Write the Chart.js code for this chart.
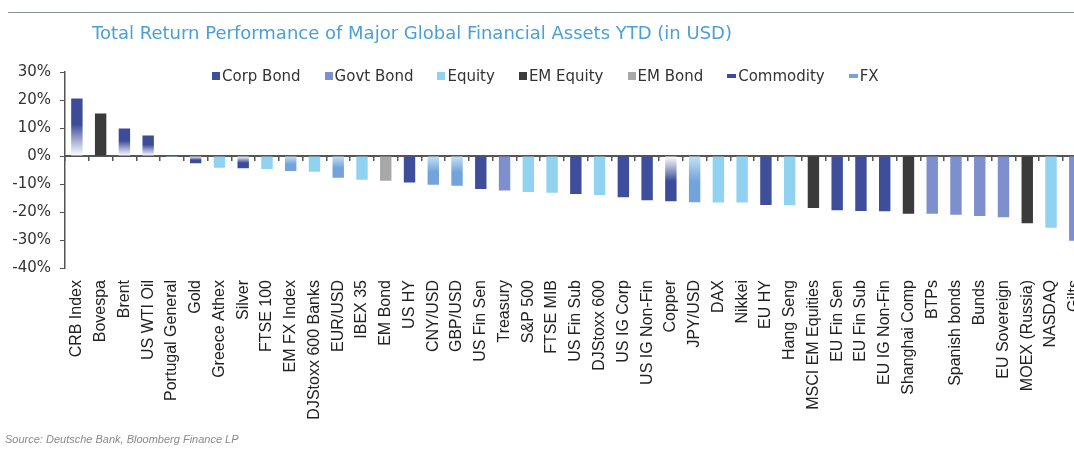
<!DOCTYPE html>
<html>
<head>
<meta charset="utf-8">
<script src="https://cdn.jsdelivr.net/npm/chart.js@4.4.1/dist/chart.umd.min.js"></script>
<style>
  html, body { margin: 0; padding: 0; background: #fff; overflow: hidden; width: 1074px; height: 454px; }
  #wrap { position: absolute; left: 0; top: 0; width: 1098px; height: 454px; }
  #topline { position: absolute; left: 8px; right: 0; top: 12px; height: 0; border-top: 1px solid #8a8f96; }
  #title { position: absolute; left: 92px; top: 22px; font: 18px "DejaVu Sans", sans-serif; color: #4a9fd8; white-space: nowrap; }
  #legend { position: absolute; left: 212px; top: 67px; display: flex; gap: 24px; font: 15px "DejaVu Sans", sans-serif; color: #333; white-space: nowrap; }
  #legend span.item { display: flex; align-items: center; }
  #legend i { display: inline-block; width: 8px; height: 8px; margin-right: 2px; }
  #legend i.dash { width: 9px; height: 4px; }
  #source { position: absolute; left: 5px; top: 433px; font: italic 11px "Liberation Sans", sans-serif; color: #8a8a8a; }
</style>
</head>
<body>
<div id="wrap"><canvas id="chart" width="1098" height="454"></canvas></div>
<div id="topline"></div>
<div id="title">Total Return Performance of Major Global Financial Assets YTD (in USD)</div>
<div id="legend"></div>
<div id="source">Source: Deutsche Bank, Bloomberg Finance LP</div>
<script>
// Dữ liệu: tên tài sản, lợi nhuận YTD (%) và nhóm tài sản
const categories = ['CRB Index', 'Bovespa', 'Brent', 'US WTI Oil', 'Portugal General', 'Gold', 'Greece Athex', 'Silver',
    'FTSE 100', 'EM FX Index', 'DJStoxx 600 Banks', 'EUR/USD', 'IBEX 35', 'EM Bond', 'US HY', 'CNY/USD', 'GBP/USD',
    'US Fin Sen', 'Treasury', 'S&P 500', 'FTSE MIB', 'US Fin Sub', 'DJStoxx 600', 'US IG Corp', 'US IG Non-Fin',
    'Copper', 'JPY/USD', 'DAX', 'Nikkei', 'EU HY', 'Hang Seng', 'MSCI EM Equities', 'EU Fin Sen', 'EU Fin Sub',
    'EU IG Non-Fin', 'Shanghai Comp', 'BTPs', 'Spanish bonds', 'Bunds', 'EU Sovereign', 'MOEX (Russia)', 'NASDAQ', 'Gilts'];

const returns = [20.5, 15.2, 9.8, 7.3, -0.4, -2.6, -4.2, -4.4,
    -4.6, -5.4, -5.6, -7.8, -8.5, -8.8, -9.5, -10.3, -10.6,
    -11.8, -12.3, -12.9, -13.1, -13.6, -13.9, -14.7, -15.8,
    -16.2, -16.5, -16.6, -16.6, -17.5, -17.6, -18.6, -19.4, -19.6,
    -19.7, -20.6, -20.6, -21.0, -21.4, -21.9, -24.0, -25.6, -30.3];

const assetClass = ['Commodity', 'EM Equity', 'Commodity', 'Commodity', 'Equity', 'Commodity', 'Equity', 'Commodity',
    'Equity', 'FX', 'Equity', 'FX', 'Equity', 'EM Bond', 'Corp Bond', 'FX', 'FX',
    'Corp Bond', 'Govt Bond', 'Equity', 'Equity', 'Corp Bond', 'Equity', 'Corp Bond', 'Corp Bond',
    'Commodity', 'FX', 'Equity', 'Equity', 'Corp Bond', 'Equity', 'EM Equity', 'Corp Bond', 'Corp Bond',
    'Corp Bond', 'EM Equity', 'Govt Bond', 'Govt Bond', 'Govt Bond', 'Govt Bond', 'EM Equity', 'Equity', 'Govt Bond'];

const classNames = ['Corp Bond', 'Govt Bond', 'Equity', 'EM Equity', 'EM Bond', 'Commodity', 'FX'];

const yTicks = [30, 20, 10, 0, -10, -20, -30, -40];

// màu cho từng nhóm
const classColors = {
    'Corp Bond': '#3f4e9b',
    'Govt Bond': '#7d8fcc',
    'Equity': '#90d2f0',
    'EM Equity': '#3b3b3b',
    'EM Bond': '#a8a8a8',
    'Commodity': '#3d4c9a',
    'FX': '#72a3da'
};

// màu nhạt dần về phía đường 0 (hàng hoá, FX)
function fade(dark, light) {
    return ctx => {
        const chart = ctx.chart;
        if (!chart.chartArea || !ctx.parsed || ctx.parsed.y == null) return dark;
        const y = chart.scales.y;
        const g = chart.ctx.createLinearGradient(0, y.getPixelForValue(0), 0, y.getPixelForValue(ctx.parsed.y));
        g.addColorStop(0, light);
        g.addColorStop(0.55, dark);
        g.addColorStop(1, dark);
        return g;
    };
}

const datasets = classNames.map(name => {
    let bg = classColors[name];
    if (name === 'Commodity') bg = fade('#3d4c9a', 'rgba(255,255,255,0.9)');
    if (name === 'FX') bg = fade('#72a3da', '#c6e2f5');
    return {
        label: name,
        data: returns.map((v, i) => assetClass[i] === name ? v : null),
        backgroundColor: bg,
        borderWidth: 0,
        barPercentage: 0.48,
        categoryPercentage: 1
    };
});

// chú thích
const legendEl = document.getElementById('legend');
classNames.forEach(name => {
    const item = document.createElement('span');
    item.className = 'item';
    const dash = (name === 'Commodity' || name === 'FX') ? ' class="dash"' : '';
    item.innerHTML = '<i' + dash + ' style="background:' + classColors[name] + '"></i>' + name;
    legendEl.appendChild(item);
});

const axisColor = '#555';

new Chart(document.getElementById('chart'), {
    type: 'bar',
    data: { labels: categories, datasets: datasets },
    options: {
        responsive: false,
        animation: false,
        layout: { padding: { top: 72, left: 0, right: 2, bottom: 0 } },
        plugins: { legend: { display: false }, tooltip: { enabled: false } },
        scales: {
            x: {
                stacked: true,
                grid: { display: false },
                border: { display: false },
                ticks: {
                    autoSkip: false, maxRotation: 90, minRotation: 90, padding: 4,
                    color: '#222', font: { family: 'Liberation Sans', size: 16 }
                },
                afterFit: s => { s.height = 186; }
            },
            x2: {
                type: 'category',
                position: { y: 0 },
                grid: { offset: true, drawOnChartArea: false, drawTicks: true, tickLength: 4, color: axisColor, lineWidth: 1.5 },
                border: { display: true, color: axisColor, width: 2 },
                ticks: { display: false }
            },
            y: {
                stacked: true,
                min: -40,
                max: 30,
                afterBuildTicks: s => { s.ticks = yTicks.map(v => ({ value: v })); },
                grid: { drawOnChartArea: false, drawTicks: true, tickLength: 5, color: axisColor },
                border: { display: true, color: axisColor, width: 1.5 },
                ticks: {
                    padding: 9, color: '#333',
                    font: { family: 'DejaVu Sans', size: 15 },
                    callback: v => v + '%'
                },
                afterFit: s => { s.width = 65; }
            }
        }
    }
});
</script>
</body>
</html>
